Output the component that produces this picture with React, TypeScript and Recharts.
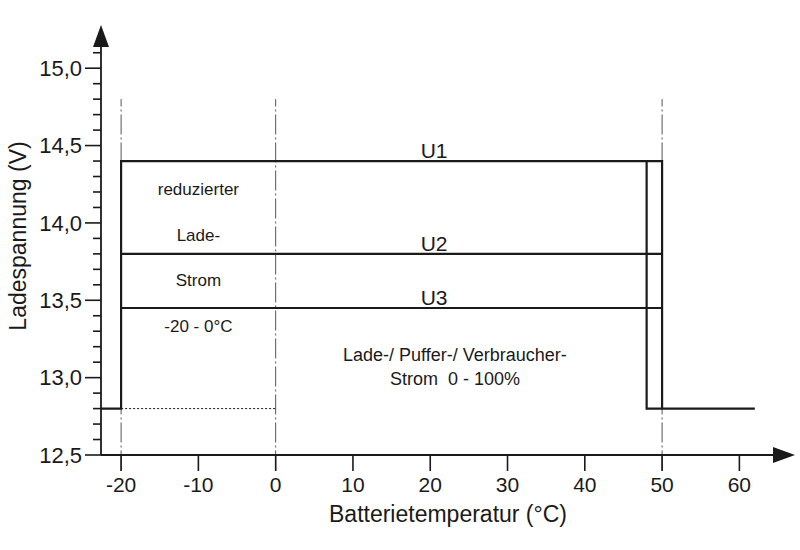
import React from "react";
import {
  ComposedChart,
  Line,
  XAxis,
  YAxis,
  ReferenceLine,
  ReferenceDot,
} from "recharts";

const FONT = '"Liberation Sans", Arial, Helvetica, sans-serif';
const INK = "#1a1a1a";

// axis ranges (°C / V)
const T_DOMAIN = [-22.6, 64.35];
const U_DOMAIN = [12.5, 15.15];
const T_TICKS = [-20, -10, 0, 10, 20, 30, 40, 50, 60];
const U_TICKS = [
  12.5, 12.6, 12.7, 12.8, 12.9, 13.0, 13.1, 13.2, 13.3, 13.4, 13.5, 13.6, 13.7,
  13.8, 13.9, 14.0, 14.1, 14.2, 14.3, 14.4, 14.5, 14.6, 14.7, 14.8, 14.9, 15.0,
  15.1,
];

// charge characteristic
const FRAME = [
  { t: -22.6, u: 12.8 },
  { t: -20, u: 12.8 },
  { t: -20, u: 14.4 },
  { t: 50, u: 14.4 },
  { t: 50, u: 12.8 },
];
const CUTOFF = [
  { t: 48, u: 14.4 },
  { t: 48, u: 12.8 },
  { t: 62, u: 12.8 },
];
const U2_LINE = [
  { t: -20, u: 13.8 },
  { t: 50, u: 13.8 },
];
const U3_LINE = [
  { t: -20, u: 13.45 },
  { t: 50, u: 13.45 },
];
const FLOAT_DOTTED = [
  { t: -20, u: 12.8 },
  { t: 0, u: 12.8 },
];

// vertical dash-dot guides
const GUIDES_T = [-20, 0, 50];
const GUIDE_RANGE = [12.4, 14.8];

const U_LABELS = [
  { text: "U1", u: 14.4 },
  { text: "U2", u: 13.8 },
  { text: "U3", u: 13.45 },
];
const U_LABEL_T = 20.5;

const LEFT_NOTES = [
  { text: "reduzierter", u: 14.218 },
  { text: "Lade-", u: 13.921 },
  { text: "Strom", u: 13.63 },
  { text: "-20 - 0°C", u: 13.333 },
];
const LEFT_NOTE_T = -10;

const MAIN_NOTES = [
  { text: "Lade-/ Puffer-/ Verbraucher-", u: 13.149 },
  { text: "Strom\u00A0 0 - 100%", u: 12.994 },
];
const MAIN_NOTE_T = 23.2;

const fmt = (v: number) => v.toFixed(1).replace(".", ",");

const YTick = (props: any) => {
  const { x, y, payload } = props;
  const v = payload.value;
  const major = Math.abs(v * 2 - Math.round(v * 2)) < 1e-6;
  return (
    <g>
      <line
        x1={x - (major ? 16 : 8)}
        x2={x}
        y1={y}
        y2={y}
        stroke={INK}
        strokeWidth={1.6}
      />
      {major && (
        <text
          x={x - 19}
          y={y}
          dy="0.355em"
          textAnchor="end"
          fontSize={22}
          fontFamily={FONT}
          fill={INK}
        >
          {fmt(v)}
        </text>
      )}
    </g>
  );
};

const YTitle = (props: any) => {
  const vb = props.viewBox || { x: 0, y: 45, width: 101, height: 410 };
  const cx = vb.x + 26;
  const cy = vb.y + vb.height / 2 - 14;
  return (
    <text
      x={cx}
      y={cy}
      transform={`rotate(-90 ${cx} ${cy})`}
      textAnchor="middle"
      fontSize={23}
      fontFamily={FONT}
      fill={INK}
    >
      Ladespannung (V)
    </text>
  );
};

const XTitle = (props: any) => {
  const vb = props.viewBox || { x: 101, y: 455, width: 672, height: 95 };
  return (
    <text
      x={vb.x + vb.width / 2 + 11}
      y={vb.y + 67}
      textAnchor="middle"
      fontSize={23}
      fontFamily={FONT}
      fill={INK}
    >
      Batterietemperatur (°C)
    </text>
  );
};

const ArrowUp = (props: any) => {
  const { cx, cy } = props;
  return (
    <polygon
      points={`${cx - 8},${cy + 2} ${cx + 8},${cy + 2} ${cx},${cy - 20}`}
      fill={INK}
    />
  );
};

const ArrowRight = (props: any) => {
  const { cx, cy } = props;
  return (
    <polygon
      points={`${cx},${cy - 8} ${cx},${cy + 8} ${cx + 22},${cy}`}
      fill={INK}
    />
  );
};

export default function App() {
  return (
    <div style={{ position: "absolute", left: 0, top: 0 }}>
      <ComposedChart
        width={800}
        height={550}
        margin={{ top: 45, right: 27, bottom: 0, left: 0 }}
      >
        <XAxis
          type="number"
          dataKey="t"
          domain={T_DOMAIN}
          ticks={T_TICKS}
          allowDataOverflow
          height={95}
          tickSize={16}
          tickMargin={6}
          axisLine={{ stroke: INK, strokeWidth: 1.8 }}
          tickLine={{ stroke: INK, strokeWidth: 1.6 }}
          tick={{ fontSize: 21, fontFamily: FONT, fill: INK }}
          label={<XTitle />}
        />
        <YAxis
          type="number"
          dataKey="u"
          domain={U_DOMAIN}
          ticks={U_TICKS}
          allowDataOverflow
          width={101}
          tickSize={0}
          tickMargin={0}
          tickLine={false}
          axisLine={{ stroke: INK, strokeWidth: 1.8 }}
          tick={<YTick />}
          interval={0}
          label={<YTitle />}
        />

        {GUIDES_T.map((t) => (
          <ReferenceLine
            key={`g${t}`}
            segment={[
              { x: t, y: GUIDE_RANGE[0] },
              { x: t, y: GUIDE_RANGE[1] },
            ]}
            ifOverflow="visible"
            stroke="#555"
            strokeWidth={1}
            strokeDasharray="20 3 2 3"
          />
        ))}

        <Line
          data={FLOAT_DOTTED}
          dataKey="u"
          type="linear"
          dot={false}
          stroke={INK}
          strokeWidth={1}
          strokeDasharray="2 2"
          isAnimationActive={false}
        />
        <Line
          data={FRAME}
          dataKey="u"
          type="linear"
          dot={false}
          stroke={INK}
          strokeWidth={2.2}
          isAnimationActive={false}
        />
        <Line
          data={CUTOFF}
          dataKey="u"
          type="linear"
          dot={false}
          stroke={INK}
          strokeWidth={2.2}
          isAnimationActive={false}
        />
        <Line
          data={U2_LINE}
          dataKey="u"
          type="linear"
          dot={false}
          stroke={INK}
          strokeWidth={2.2}
          isAnimationActive={false}
        />
        <Line
          data={U3_LINE}
          dataKey="u"
          type="linear"
          dot={false}
          stroke={INK}
          strokeWidth={2.2}
          isAnimationActive={false}
        />

        {U_LABELS.map((l) => (
          <ReferenceDot
            key={l.text}
            x={U_LABEL_T}
            y={l.u}
            r={0}
            fill="none"
            stroke="none"
            label={{
              value: l.text,
              position: "top",
              offset: 3,
              fontSize: 21,
              fontFamily: FONT,
              fill: INK,
            }}
          />
        ))}
        {LEFT_NOTES.map((l) => (
          <ReferenceDot
            key={l.text}
            x={LEFT_NOTE_T}
            y={l.u}
            r={0}
            fill="none"
            stroke="none"
            label={{
              value: l.text,
              position: "center",
              fontSize: 17,
              fontFamily: FONT,
              fill: INK,
            }}
          />
        ))}
        {MAIN_NOTES.map((l) => (
          <ReferenceDot
            key={l.text}
            x={MAIN_NOTE_T}
            y={l.u}
            r={0}
            fill="none"
            stroke="none"
            label={{
              value: l.text,
              position: "center",
              fontSize: 18,
              fontFamily: FONT,
              fill: INK,
            }}
          />
        ))}

        <ReferenceDot
          x={T_DOMAIN[0]}
          y={U_DOMAIN[1]}
          r={0}
          ifOverflow="visible"
          shape={<ArrowUp />}
        />
        <ReferenceDot
          x={T_DOMAIN[1]}
          y={U_DOMAIN[0]}
          r={0}
          ifOverflow="visible"
          shape={<ArrowRight />}
        />
      </ComposedChart>
    </div>
  );
}
